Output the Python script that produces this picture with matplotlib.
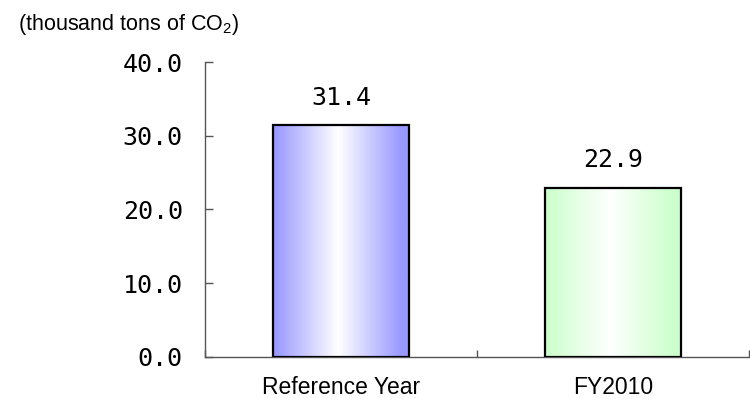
import numpy as np
import matplotlib
matplotlib.use("Agg")
import matplotlib.pyplot as plt
from matplotlib.colors import LinearSegmentedColormap

# Emissions data (thousand tons of CO2)
categories = ["Reference Year", "FY2010"]
values = [31.4, 22.9]
edge_colors = ["#9999FF", "#CCFFCC"]
y_ticks = [0, 10, 20, 30, 40]
unit_label = r"(thousand tons of CO$_\mathregular{2}$)"

plt.rcParams["mathtext.fontset"] = "custom"
plt.rcParams["mathtext.rm"] = "Liberation Sans"
plt.rcParams["mathtext.it"] = "Liberation Sans"

num_font = "DejaVu Sans Mono"
txt_font = "Liberation Sans"
num_size = 18

fig = plt.figure(figsize=(7.5, 3.99), dpi=100)
ax = fig.add_axes([0.2733, 0.1053, 0.7254, 0.7393])

positions = np.arange(len(categories)) + 0.5
bars = ax.bar(positions, values, width=0.5, facecolor="none",
              edgecolor="black", linewidth=1.6, zorder=3)

# horizontal gradient fill: coloured edges fading to white in the middle
t = np.linspace(0, 1, 256)
profile = np.clip(np.abs(2 * t - 0.95) * 1.08, 0, 1)[np.newaxis, :]
for bar, col in zip(bars, edge_colors):
    cmap = LinearSegmentedColormap.from_list("g", ["white", col])
    x0, w, h = bar.get_x(), bar.get_width(), bar.get_height()
    im = ax.imshow(profile, cmap=cmap, vmin=0, vmax=1, aspect="auto",
                   extent=[x0, x0 + w, 0, h], zorder=2, interpolation="bicubic")
    im.set_clip_path(bar)

for pos, v in zip(positions, values):
    ax.annotate(f"{v:.1f}", xy=(pos, v), xytext=(0, 15),
                textcoords="offset points", ha="center", va="baseline",
                fontsize=num_size, family=num_font)

ax.set_xlim(0, len(categories))
ax.set_ylim(0, 40)

ax.set_yticks(y_ticks)
ax.set_yticklabels([f"{v:.1f}" for v in y_ticks], family=num_font,
                   fontsize=num_size)
ax.tick_params(axis="y", direction="in", length=6, width=1, pad=16,
               color="#555555")

ax.set_xticks(np.arange(len(categories) + 1))
ax.set_xticklabels([])
ax.set_xticks(positions, minor=True)
ax.set_xticklabels(categories, minor=True, family=txt_font, fontsize=16.5)
ax.tick_params(axis="x", which="major", direction="in", length=5, width=1,
               color="#555555")
ax.tick_params(axis="x", which="minor", length=0, pad=14)

for side in ("top", "right"):
    ax.spines[side].set_visible(False)
for side in ("left", "bottom"):
    ax.spines[side].set_color("#555555")
    ax.spines[side].set_linewidth(1.0)

fig.text(0.024, 1 - 30 / 399, unit_label, family=txt_font, fontsize=15.5,
         ha="left", va="baseline")

fig.savefig("out.png", dpi=100)
